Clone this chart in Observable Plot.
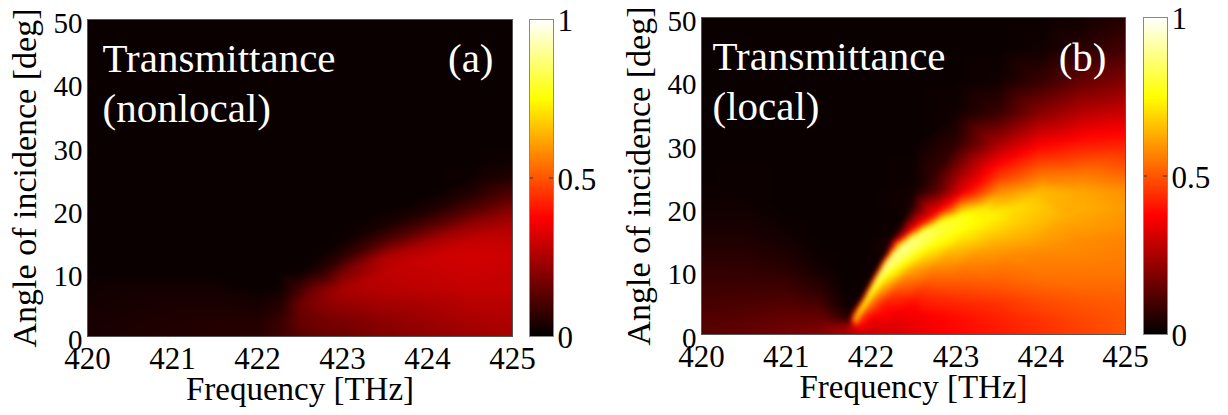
<!DOCTYPE html>
<html><head><meta charset="utf-8">
<script src="https://cdn.jsdelivr.net/npm/d3@7"></script>
<script src="https://cdn.jsdelivr.net/npm/@observablehq/plot@0.6"></script>
<style>
html,body{margin:0;padding:0;background:#fff;}
#fig{position:relative;width:1228px;height:415px;overflow:hidden;}
#fig > svg{position:absolute;top:0;}
</style></head><body><div id="fig"></div>
<script>
// ---- tick labels and texts ----
const freqTicks = [420, 421, 422, 423, 424, 425];
const angleTicks = [0, 10, 20, 30, 40, 50];
const cbarTicks = [0, 0.5, 1];
const xLabel = "Frequency [THz]";
const yLabel = "Angle of incidence [deg]";
const titleA = ["Transmittance", "(nonlocal)"];
const titleB = ["Transmittance", "(local)"];
const tagA = "(a)";
const tagB = "(b)";

// ---- colormap (MATLAB "hot") ----
const hotStops = [0, 0.375, 0.75, 1];
const hotColors = ["#000000", "#ff0000", "#ffff00", "#ffffff"];

// ---- panel (a): nonlocal transmittance; rows = angles, columns = frequencies ----
const freqA = [420, 420.5, 421, 421.5, 422, 422.25, 422.5, 422.75, 423, 423.5, 424, 424.5, 425];
const angleA = [0, 2.5, 5, 7.5, 10, 12.5, 15, 17.5, 20, 22.5, 25, 27.5, 30, 40, 50];
const transA = [
  [.035, .045, .05, .055, .06, .09, .13, .15, .16, .19, .21, .23, .25],
  [.035, .04, .045, .05, .05, .08, .15, .17, .18, .21, .23, .25, .26],
  [.03, .035, .04, .04, .035, .05, .16, .2, .22, .24, .25, .27, .27],
  [.025, .03, .03, .03, .015, .02, .1, .19, .25, .27, .28, .29, .29],
  [.015, .015, .015, .015, .015, .015, .02, .07, .18, .28, .29, .3, .29],
  [.015, .015, .015, .015, .015, .015, .015, .025, .07, .26, .3, .31, .3],
  [.015, .015, .015, .015, .015, .015, .015, .015, .02, .12, .24, .29, .29],
  [.015, .015, .015, .015, .015, .015, .015, .015, .015, .04, .12, .22, .26],
  [.015, .015, .015, .015, .015, .015, .015, .015, .015, .015, .04, .12, .2],
  [.015, .015, .015, .015, .015, .015, .015, .015, .015, .015, .015, .05, .12],
  [.015, .015, .015, .015, .015, .015, .015, .015, .015, .015, .015, .02, .05],
  [.015, .015, .015, .015, .015, .015, .015, .015, .015, .015, .015, .015, .025],
  [.015, .015, .015, .015, .015, .015, .015, .015, .015, .015, .015, .015, .015],
  [.015, .015, .015, .015, .015, .015, .015, .015, .015, .015, .015, .015, .015],
  [.015, .015, .015, .015, .015, .015, .015, .015, .015, .015, .015, .015, .015]
];

// ---- panel (b): local transmittance; each angle row has its own sampled frequencies ----
const angleB = [0, 1.25, 2.5, 3.75, 5, 6.25, 7.5, 8.75, 10, 11.25, 12.5, 13.75, 15, 16.25, 17.5, 18.75, 20, 22.5, 25, 30, 35, 40, 45, 50];
const freqRowsB = [
  [420, 420.5, 421, 421.4, 421.7, 421.85, 422, 422.3, 422.6, 423, 423.5, 424, 424.5, 425],
  [420, 421, 421.5, 421.7, 421.78, 421.85, 422, 422.3, 423, 424, 425],
  [420, 420.5, 421, 421.4, 421.6, 421.74, 421.81, 421.88, 422, 422.3, 422.6, 423, 423.5, 424, 424.5, 425],
  [420, 421, 421.4, 421.6, 421.78, 421.86, 421.94, 422.1, 422.4, 423, 424, 425],
  [420, 420.5, 421, 421.4, 421.65, 421.84, 421.92, 422, 422.15, 422.5, 423, 423.5, 424, 424.5, 425],
  [420, 421, 421.4, 421.7, 421.9, 421.97, 422.06, 422.25, 422.6, 423, 424, 425],
  [420, 420.5, 421, 421.4, 421.7, 421.95, 422.02, 422.12, 422.3, 422.6, 423, 423.5, 424, 424.5, 425],
  [420, 421, 421.4, 421.7, 422, 422.07, 422.18, 422.38, 422.7, 423, 424, 425],
  [420, 420.5, 421, 421.4, 421.7, 422.05, 422.13, 422.25, 422.45, 422.7, 423, 423.5, 424, 424.5, 425],
  [420, 421, 421.4, 421.8, 422.1, 422.18, 422.32, 422.55, 422.8, 423.2, 424, 425],
  [420, 420.5, 421, 421.4, 421.8, 422.16, 422.26, 422.42, 422.65, 422.9, 423.2, 423.6, 424, 424.5, 425],
  [420, 421, 421.4, 421.9, 422.2, 422.35, 422.52, 422.75, 423, 423.4, 424, 425],
  [420, 420.5, 421, 421.4, 421.9, 422.23, 422.34, 422.46, 422.65, 422.9, 423.2, 423.6, 424, 424.5, 425],
  [420, 421, 421.5, 422, 422.3, 422.47, 422.62, 422.85, 423.1, 423.5, 424, 424.5, 425],
  [420, 420.5, 421, 421.5, 422, 422.35, 422.6, 422.8, 423.05, 423.3, 423.7, 424, 424.5, 425],
  [420, 421, 422, 422.4, 422.75, 423.05, 423.4, 423.8, 424.3, 425],
  [420, 420.5, 421, 421.5, 422, 422.45, 422.88, 423.35, 423.7, 424, 424.5, 425],
  [420, 420.5, 421, 421.5, 422, 422.5, 422.8, 423.1, 423.5, 424, 424.5, 425],
  [420, 421, 422, 422.5, 422.75, 423, 423.5, 424, 424.5, 425],
  [420, 421, 422, 422.5, 423, 423.5, 424, 424.5, 425],
  [420, 421, 422, 422.5, 423, 423.5, 424, 424.5, 425],
  [420, 421, 422, 422.5, 423, 423.5, 424, 424.5, 425],
  [420, 421, 422, 422.5, 423, 423.5, 424, 424.5, 425],
  [420, 421, 422, 422.5, 423, 423.5, 424, 424.5, 425]
];
const transB = [
  [.13, .15, .17, .2, .25, .28, .3, .32, .35, .38, .41, .44, .47, .5],
  [.125, .16, .2, .22, .3, .35, .32, .33, .385, .445, .5],
  [.12, .13, .15, .15, .11, .06, .72, .45, .36, .34, .36, .39, .42, .45, .48, .5],
  [.11, .135, .13, .07, .03, .76, .5, .4, .37, .41, .47, .505],
  [.1, .11, .12, .1, .03, .02, .8, .55, .42, .39, .43, .45, .48, .5, .51],
  [.095, .105, .08, .02, .02, .83, .6, .46, .44, .46, .5, .52],
  [.09, .09, .09, .06, .015, .02, .86, .66, .52, .48, .49, .5, .52, .53, .53],
  [.082, .078, .045, .015, .02, .88, .72, .57, .52, .52, .54, .54],
  [.075, .075, .065, .03, .015, .02, .9, .78, .62, .56, .55, .54, .55, .55, .55],
  [.068, .055, .025, .015, .02, .9, .82, .66, .6, .57, .56, .555],
  [.06, .06, .045, .02, .015, .03, .9, .84, .7, .63, .6, .58, .57, .57, .56],
  [.052, .037, .017, .015, .04, .89, .85, .74, .67, .62, .59, .565],
  [.045, .045, .03, .015, .015, .03, .35, .87, .84, .76, .69, .64, .61, .58, .57],
  [.04, .025, .015, .015, .03, .4, .84, .8, .74, .68, .63, .6, .58],
  [.035, .035, .02, .015, .015, .02, .4, .8, .78, .74, .68, .65, .61, .59],
  [.03, .017, .015, .02, .4, .77, .74, .68, .63, .595],
  [.025, .025, .015, .015, .015, .03, .4, .72, .7, .67, .63, .6],
  [.02, .02, .015, .015, .015, .03, .15, .36, .58, .65, .62, .59],
  [.015, .015, .015, .02, .08, .22, .45, .55, .56, .53],
  [.015, .015, .015, .015, .07, .25, .37, .41, .42],
  [.015, .015, .015, .015, .025, .08, .2, .27, .3],
  [.015, .015, .015, .015, .015, .025, .08, .15, .19],
  [.015, .015, .015, .015, .015, .015, .025, .06, .1],
  [.015, .015, .015, .015, .015, .015, .015, .025, .05]
];

const FONT = '"Liberation Serif", "Times New Roman", serif';

function tableGrid(freqs, angles, rows) {
  return angles.flatMap((a, i) => freqs.map((f, j) => ({f, a, v: rows[i][j]})));
}
function tableRows(angles, freqRows, rows) {
  return angles.flatMap((a, i) => freqRows[i].map((f, j) => ({f, a, v: rows[i][j]})));
}

const colorOpts = {type: "linear", domain: hotStops, range: hotColors, interpolate: "rgb", clamp: true};

function heatmap(data, title, tag, L) {
  return Plot.plot({
    width: 614, height: 415,
    marginLeft: L.ml, marginRight: L.mr, marginTop: L.mt, marginBottom: L.mb,
    style: {fontFamily: FONT, background: "transparent", color: "#000", overflow: "visible"},
    x: {domain: [420, 425], axis: null},
    y: {domain: [0, 50], axis: null},
    color: colorOpts,
    marks: [
      Plot.raster(data, {x: "f", y: "a", fill: "v", interpolate: "barycentric", x1: 420, x2: 425, y1: 0, y2: 50, pixelSize: 1, blur: L.blur}),
      Plot.frame({stroke: "#555", strokeWidth: 1}),
      Plot.axisX(freqTicks, {anchor: "bottom", tickSize: 0, tickPadding: 10, fontSize: 31, label: null, tickFormat: d => String(d)}),
      Plot.axisY(angleTicks, {anchor: "left", tickSize: 0, tickPadding: 5, fontSize: 29, dy: 4, label: null, tickFormat: d => String(d)}),
      Plot.text([xLabel], {frameAnchor: "bottom", textAnchor: "middle", lineAnchor: "middle", dy: 53, fontSize: 33, fill: "#000"}),
      Plot.text([yLabel], {frameAnchor: "left", textAnchor: "middle", lineAnchor: "middle", rotate: -90, dx: -62, fontSize: 34, fill: "#000"}),
      Plot.text([title.join("\n")], {frameAnchor: "top-left", textAnchor: "start", lineAnchor: "top", dx: L.tdx, dy: L.tdy, fontSize: 41, lineHeight: 1.22, fill: "white"}),
      Plot.text([tag], {frameAnchor: "top-right", textAnchor: "end", lineAnchor: "top", dx: -19, dy: L.gdy, fontSize: 41, fill: "white"})
    ]
  });
}

function colorbar(L) {
  return Plot.plot({
    width: 90, height: 415,
    marginLeft: 0, marginRight: 66, marginTop: L.mt, marginBottom: L.mb,
    style: {fontFamily: FONT, background: "transparent", color: "#000", overflow: "visible"},
    x: {domain: [0, 1], axis: null},
    y: {domain: [0, 1], axis: null},
    color: colorOpts,
    marks: [
      Plot.raster({fill: (x, y) => y, x1: 0, x2: 1, y1: 0, y2: 1, pixelSize: 1}),
      Plot.tickY([0.5], {stroke: "#333", insetRight: 20}),
      Plot.tickY([0.5], {stroke: "#333", insetLeft: 20}),
      Plot.frame({stroke: "#888", strokeWidth: 1}),
      Plot.axisY(cbarTicks, {anchor: "right", tickSize: 0, tickPadding: 4, fontSize: 31, dy: 2, label: null, tickFormat: d => String(d)})
    ]
  });
}

const fig = document.getElementById("fig");
const LA = {ml: 87, mr: 102, mt: 19, mb: 79, tdx: 15, tdy: 17, gdy: 23, blur: 2};
const LB = {ml: 87, mr: 103, mt: 17, mb: 81, tdx: 11, tdy: 17, gdy: 24, blur: 2};

const hA = heatmap(tableGrid(freqA, angleA, transA), titleA, tagA, LA);
hA.style.left = "0px";
const hB = heatmap(tableRows(angleB, freqRowsB, transB), titleB, tagB, LB);
hB.style.left = "614px";
const cA = colorbar(LA);
cA.style.left = "529px";
const cB = colorbar(LB);
cB.style.left = "1143px";
fig.append(hA, hB, cA, cB);
</script></body></html>
